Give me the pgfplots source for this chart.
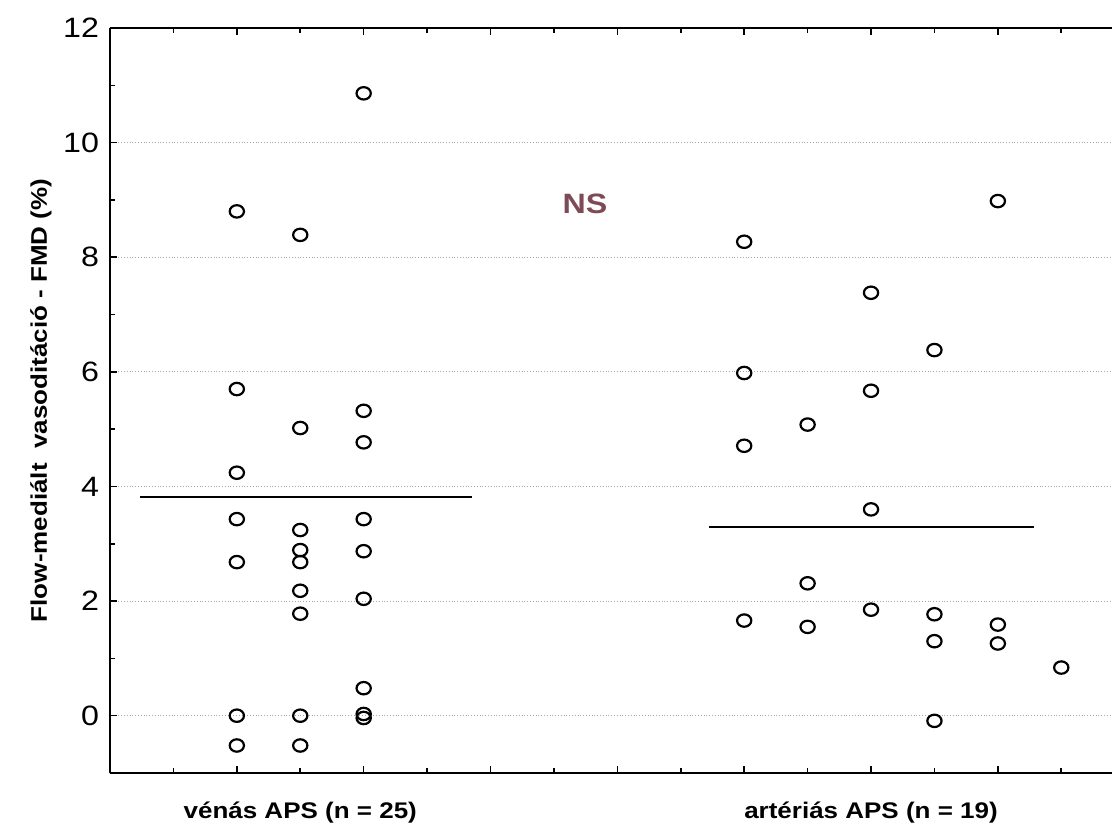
\documentclass[border=0pt]{standalone}
\usepackage{pgfplots}
\pgfplotsset{compat=1.18}
\usepackage{fontspec}
\setmainfont[FakeStretch=1.15]{Liberation Sans}
\definecolor{nscol}{RGB}{125,75,88}
\begin{document}
\begin{tikzpicture}
\begin{axis}[name=ax, scale only axis, width=501pt, height=372.5pt,
  xmin=0, xmax=15.8, ymin=-1, ymax=12,
  separate axis lines, axis x line*=box, axis y line*=left,
  axis line style={line width=1pt, -},
  tick align=inside,
  xtick={2,4,...,14}, minor xtick={1,3,...,15}, xticklabels={},
  ytick={0,2,...,12}, minor ytick={1,3,...,11},
  major tick length=3.5pt, minor tick length=2.5pt,
  tick style={line width=0.8pt, black},
  extra x ticks={3,12},
  extra x tick labels={\bfseries vénás APS (n = 25), \bfseries artériás APS (n = 19)},
  extra x tick style={major tick length=0pt, xticklabel style={yshift=-11pt, font=\fontsize{11.3}{13}\selectfont}},
  ymajorgrids, grid style={densely dotted, gray!70, line width=0.5pt},
  /pgf/number format/assume math mode=true,
  yticklabel style={font=\fontsize{14}{16}\selectfont, xshift=-2pt},
  ylabel={\bfseries Flow-mediált\ \ vasoditáció - FMD (\%)},
  ylabel style={at={(axis description cs:-0.069,0.5)}, anchor=center, font=\fontsize{11.3}{13}\selectfont},
  clip=false]
\addplot[only marks, mark=o, mark size=3.1pt, mark options={xscale=1.15, line width=1.1pt, black}] coordinates {
(2,8.80)(2,5.70)(2,4.24)(2,3.43)(2,2.68)(2,0.0)(2,-0.52)
(3,8.39)(3,5.02)(3,3.24)(3,2.89)(3,2.68)(3,2.18)(3,1.78)(3,0.0)(3,-0.52)
(4,10.86)(4,5.32)(4,4.77)(4,3.43)(4,2.87)(4,2.04)(4,0.48)(4,0.03)(4,-0.04)
};
\addplot[only marks, mark=o, mark size=3.1pt, mark options={xscale=1.15, line width=1.1pt, black}] coordinates {
(10,8.27)(10,5.98)(10,4.71)(10,1.66)
(11,5.08)(11,2.31)(11,1.55)
(12,7.38)(12,5.67)(12,3.60)(12,1.85)
(13,6.38)(13,1.77)(13,1.30)(13,-0.09)
(14,8.98)(14,1.59)(14,1.26)
(15,0.84)
};
\addplot[black, line width=1pt] coordinates {(0.47,3.81)(5.71,3.81)};
\addplot[black, line width=1pt] coordinates {(9.45,3.29)(14.57,3.29)};
\node[text=nscol, font=\bfseries\fontsize{14}{16}\selectfont] at (axis cs:7.49,8.93) {NS};
\end{axis}
\pgfresetboundingbox
\path (ax.south west) ++(-55pt,-31pt);
\path (ax.north east) ++(0pt,14pt);
\end{tikzpicture}
\end{document}
